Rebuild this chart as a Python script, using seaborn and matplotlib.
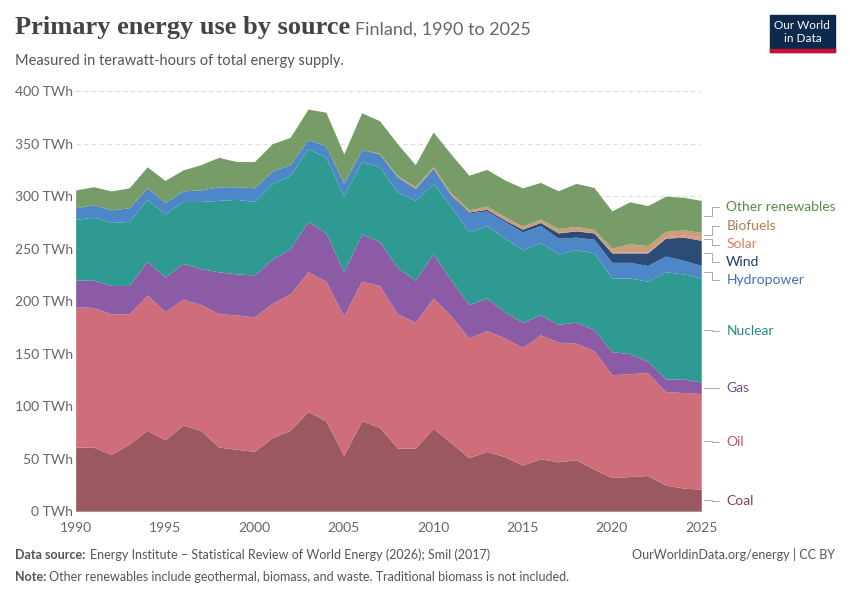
import numpy as np
import matplotlib.pyplot as plt
import seaborn as sns

years = list(range(1990, 2026))
coal = [61, 61, 54, 64, 77, 68, 82, 77, 61, 59, 57, 70, 77, 95, 86, 53, 86, 80, 60, 60,
        79, 65, 51, 57, 52, 44, 50, 47, 49, 40, 32, 33, 34, 25, 22, 21]
oil = [134, 133, 134, 124, 129, 122, 120, 120, 127, 128, 128, 128, 130, 133, 133, 133, 133, 135, 128, 120,
       124, 121, 114, 115, 113, 112, 118, 114, 111, 113, 98, 98, 98, 89, 91, 91]
gas = [25, 26, 27, 27, 32, 33, 34, 34, 40, 39, 40, 42, 43, 48, 46, 42, 45, 42, 44, 40,
       42, 34, 32, 31, 25, 24, 19, 17, 20, 20, 22, 19, 11, 12, 13, 11]
nuclear = [58, 60, 60, 61, 59, 60, 59, 64, 68, 71, 70, 72, 70, 69, 72, 72, 69, 71, 72, 76,
           67, 70, 69, 69, 70, 69, 69, 67, 69, 73, 70, 72, 76, 102, 100, 99]
hydro = [11, 12, 12, 13, 11, 11, 10, 11, 13, 12, 13, 12, 10, 9, 11, 12, 11, 12, 14, 11,
         14, 10, 18, 14, 16, 17, 16, 15, 12, 13, 15, 15, 15, 15, 13, 12]
wind = [0, 0, 0, 0, 0, 0, 0, 0, 0, 0, 0, 0, 0, 0, 0, 0.3, 0.4, 0.4, 0.5, 0.5,
        0.7, 1, 1, 1.5, 1.5, 2.5, 3, 5, 6, 6, 9, 9, 12, 17, 22, 24]
solar = [0] * 26 + [0.1, 0.2, 0.2, 0.3, 0.5, 0.7, 1, 1.5, 2, 2.5]
biofuels = [0] * 17 + [0.5, 1, 1.5, 1.5, 2, 2, 3, 3, 3, 3, 4, 4, 3, 4, 8, 6, 5, 5, 5]
other = [17, 17, 18, 19, 20, 21, 20, 24, 28, 24, 25, 26, 26, 29, 32, 28, 35, 31, 30.5, 21,
         33, 37, 33, 35, 35, 36.5, 35, 36, 41, 40, 35.5, 40, 38, 33.5, 31, 30.5]

names = ["Coal", "Oil", "Gas", "Nuclear", "Hydropower", "Wind", "Solar", "Biofuels", "Other renewables"]
series = [coal, oil, gas, nuclear, hydro, wind, solar, biofuels, other]
fills = ["#9c5860", "#cf6e7a", "#8c5ba5", "#2e9a92", "#4e87c8", "#2c4b77", "#e0967b", "#c89f78", "#789c68"]
text_cols = ["#883f47", "#c9525f", "#7a4b96", "#1f8a80", "#3a70b8", "#1d3a68", "#d8805f", "#b07e4e", "#5b8a4b"]
label_y = [10, 66, 117, 172, 220, 237, 254, 272, 290]

sns.set_style("white")
plt.rcParams['font.family'] = ['Lato', 'DejaVu Sans']

fig = plt.figure(figsize=(8.5, 6), dpi=100)
ax = fig.add_axes([0.089, 0.148, 0.736, 0.70])
ax.stackplot(years, *series, colors=fills, linewidth=0)

ax.set_xlim(1990, 2025)
ax.set_ylim(0, 400)
ax.set_yticks(range(0, 401, 50))
ax.set_yticklabels([f"{v} TWh" for v in range(0, 401, 50)], color="#666666", fontsize=10)
ax.set_xticks(range(1990, 2026, 5))
ax.tick_params(axis="x", colors="#666666", labelsize=10, length=4, color="#999999")
ax.tick_params(axis="y", length=0, pad=2)
for v in range(50, 401, 50):
    ax.axhline(v, color="#dddddd", lw=0.8, ls=(0, (4, 3)), zorder=0)
for s in ["top", "right", "left"]:
    ax.spines[s].set_visible(False)
ax.spines["bottom"].set_color("#999999")

# right side labels with connectors
cum = np.cumsum(np.array(series), axis=0)
for i, name in enumerate(names):
    top = cum[i][-1]
    bot = cum[i - 1][-1] if i > 0 else 0
    mid = (top + bot) / 2
    ax.plot([2025.15, 2025.6, 2025.6, 2026.0], [mid, mid, label_y[i], label_y[i]],
            color="#aaaaaa", lw=0.7, clip_on=False)
    ax.text(2026.4, label_y[i], name, color=text_cols[i], fontsize=10,
            va="center", ha="left", clip_on=False)

fig.text(0.018, 0.943, "Primary energy use by source", fontsize=19, fontweight="bold",
         color="#444444", family=["Liberation Serif", "DejaVu Serif"])
fig.text(0.418, 0.943, "Finland, 1990 to 2025", fontsize=13, color="#666666")
fig.text(0.018, 0.892, "Measured in terawatt-hours of total energy supply.", fontsize=10.5, color="#555555")

# logo
fig.patches.append(plt.Rectangle((0.906, 0.913), 0.076, 0.062, transform=fig.transFigure,
                                 color="#0d2a4e"))
fig.patches.append(plt.Rectangle((0.906, 0.913), 0.076, 0.005, transform=fig.transFigure,
                                 color="#c8102e"))
fig.text(0.944, 0.958, "Our World", fontsize=8.5, color="white", ha="center", va="center")
fig.text(0.944, 0.935, "in Data", fontsize=8.5, color="white", ha="center", va="center")

fig.text(0.018, 0.068, "Data source:", fontsize=9, fontweight="bold", color="#555555")
fig.text(0.106, 0.068, "Energy Institute – Statistical Review of World Energy (2026); Smil (2017)",
         fontsize=9, color="#555555")
fig.text(0.982, 0.068, "OurWorldinData.org/energy | CC BY", fontsize=9, color="#555555", ha="right")
fig.text(0.018, 0.032, "Note:", fontsize=9, fontweight="bold", color="#555555")
fig.text(0.058, 0.032, "Other renewables include geothermal, biomass, and waste. Traditional biomass is not included.",
         fontsize=9, color="#555555")

fig.savefig("out.png", dpi=100)
